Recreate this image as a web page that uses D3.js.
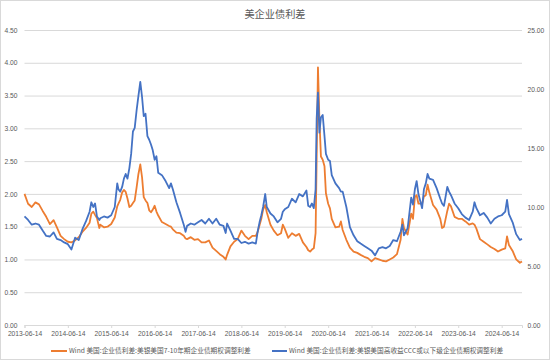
<!DOCTYPE html>
<html><head><meta charset="utf-8">
<script src="https://cdn.jsdelivr.net/npm/d3@7"></script>
<style>html,body{margin:0;padding:0;background:#fff;}svg{display:block;font-family:"Noto Sans CJK SC","Noto Sans",sans-serif;}</style>
</head><body><svg id="c" width="550" height="360"></svg>
<script>
const title = "美企业债利差";
const seriesNames = ["Wind 美国:企业债利差:美银美国7-10年期企业债期权调整利差","Wind 美国:企业债利差:美银美国高收益CCC或以下级企业债期权调整利差"];
const xTickLabels = ["2013-06-14","2014-06-14","2015-06-14","2016-06-14","2017-06-14","2018-06-14","2019-06-14","2020-06-14","2021-06-14","2022-06-14","2023-06-14","2024-06-14"];
const leftTicks = [0,0.5,1,1.5,2,2.5,3,3.5,4,4.5];
const rightTicks = [0,5,10,15,20,25];
const dates = ["2013-06-14","2013-07-14","2013-08-14","2013-09-14","2013-10-14","2013-11-14","2013-12-14","2014-01-14","2014-02-14","2014-03-14","2014-04-14","2014-05-14","2014-06-14","2014-07-14","2014-08-14","2014-09-14","2014-10-14","2014-11-14","2014-12-14","2014-12-29","2015-01-14","2015-01-29","2015-02-14","2015-03-06","2015-03-14","2015-04-14","2015-05-14","2015-06-14","2015-07-14","2015-08-04","2015-08-14","2015-08-29","2015-09-14","2015-09-29","2015-10-14","2015-10-29","2015-11-14","2015-11-29","2015-12-14","2015-12-29","2016-01-14","2016-01-29","2016-02-14","2016-02-29","2016-03-14","2016-03-29","2016-04-14","2016-04-29","2016-05-14","2016-05-29","2016-06-14","2016-06-29","2016-07-14","2016-08-14","2016-09-14","2016-10-14","2016-10-29","2016-11-14","2016-12-14","2017-01-14","2017-02-14","2017-03-01","2017-03-14","2017-04-14","2017-05-14","2017-06-14","2017-07-14","2017-08-14","2017-09-14","2017-10-14","2017-11-14","2017-12-14","2018-01-14","2018-02-02","2018-02-14","2018-03-14","2018-04-14","2018-05-14","2018-06-14","2018-07-14","2018-08-14","2018-09-14","2018-10-14","2018-10-29","2018-11-14","2018-11-29","2018-12-14","2019-01-01","2019-01-14","2019-02-14","2019-03-14","2019-04-14","2019-05-14","2019-05-29","2019-06-14","2019-07-14","2019-08-14","2019-09-14","2019-10-14","2019-11-14","2019-12-14","2019-12-29","2020-01-14","2020-01-29","2020-02-14","2020-02-29","2020-03-09","2020-03-20","2020-04-01","2020-04-14","2020-04-29","2020-05-14","2020-05-26","2020-06-14","2020-06-29","2020-07-14","2020-08-14","2020-09-14","2020-09-29","2020-10-14","2020-11-14","2020-12-14","2021-01-14","2021-02-14","2021-03-14","2021-04-14","2021-05-14","2021-06-14","2021-07-14","2021-08-14","2021-09-14","2021-10-14","2021-11-14","2021-12-14","2022-01-14","2022-02-14","2022-03-01","2022-03-14","2022-04-14","2022-05-14","2022-05-29","2022-06-14","2022-06-29","2022-07-14","2022-08-14","2022-08-29","2022-09-14","2022-09-29","2022-10-14","2022-11-14","2022-12-14","2023-01-14","2023-01-29","2023-02-14","2023-03-14","2023-03-29","2023-04-14","2023-05-14","2023-06-14","2023-07-14","2023-08-14","2023-09-14","2023-10-14","2023-10-29","2023-11-14","2023-12-14","2024-01-14","2024-02-14","2024-03-14","2024-04-14","2024-05-14","2024-06-14","2024-07-14","2024-07-29","2024-08-14","2024-09-14","2024-10-14","2024-11-14","2024-12-02"];
const igOAS = [2.00,1.85,1.80,1.87,1.84,1.74,1.65,1.54,1.60,1.49,1.36,1.31,1.27,1.26,1.29,1.34,1.42,1.48,1.56,1.70,1.73,1.68,1.63,1.48,1.53,1.49,1.50,1.54,1.64,1.81,1.85,1.91,2.02,2.06,2.03,1.93,1.80,1.82,1.86,1.90,2.10,2.30,2.45,2.25,1.95,1.90,1.86,1.75,1.72,1.76,1.82,1.73,1.67,1.57,1.54,1.51,1.50,1.46,1.41,1.40,1.36,1.32,1.31,1.34,1.30,1.31,1.26,1.26,1.29,1.18,1.13,1.08,1.04,1.00,1.07,1.20,1.27,1.31,1.44,1.36,1.31,1.36,1.36,1.42,1.52,1.62,1.76,1.83,1.72,1.53,1.44,1.37,1.40,1.53,1.47,1.33,1.40,1.36,1.39,1.26,1.19,1.14,1.12,1.15,1.17,1.40,2.55,3.93,3.15,2.57,2.52,2.42,2.01,1.85,1.78,1.62,1.49,1.50,1.58,1.45,1.30,1.18,1.12,1.10,1.07,1.04,1.02,0.97,1.02,1.00,0.98,0.97,1.00,1.03,1.08,1.30,1.62,1.48,1.38,1.70,1.62,1.95,1.98,1.85,1.85,1.96,1.98,2.14,2.02,1.83,1.76,1.62,1.48,1.50,1.74,1.85,1.81,1.65,1.62,1.62,1.58,1.53,1.55,1.53,1.47,1.31,1.27,1.23,1.19,1.16,1.12,1.15,1.17,1.35,1.22,1.13,1.00,0.95,0.97];
const cccOAS = [9.2,8.9,8.5,8.6,8.5,8.0,7.55,7.5,7.85,7.3,7.2,7.0,6.85,6.4,7.4,7.2,8.1,8.8,9.6,10.4,10.0,10.3,9.2,8.9,9.05,9.2,9.1,9.3,10.0,12.0,11.5,11.3,11.7,12.4,12.8,12.4,13.3,14.5,16.4,16.7,18.2,19.4,20.6,19.3,17.7,17.9,16.0,15.7,15.3,14.8,14.0,14.3,12.9,12.7,12.2,11.6,12.0,11.5,10.4,9.5,8.5,7.9,8.4,8.6,8.5,8.7,8.9,8.6,9.0,8.6,9.0,8.5,8.4,7.8,8.6,8.0,7.3,7.3,6.95,7.05,6.9,7.0,6.9,7.9,8.7,9.3,10.0,11.1,10.0,9.45,9.2,8.7,9.0,9.6,9.8,10.0,10.7,10.4,11.1,10.9,11.4,10.1,10.0,10.3,9.9,11.5,17.5,19.7,16.3,17.6,17.8,16.0,14.5,14.0,13.9,12.7,12.0,11.6,11.3,11.3,10.0,8.3,7.6,7.1,6.9,6.7,6.5,6.3,5.9,6.5,6.6,6.5,6.7,7.2,7.1,7.9,8.5,7.6,8.2,10.8,10.2,11.5,12.2,11.1,9.9,11.5,12.0,12.8,12.4,12.3,11.6,10.7,10.3,10.1,11.7,11.3,11.0,10.3,9.9,9.4,9.1,8.9,9.6,10.4,9.9,9.3,9.5,9.1,8.6,9.0,9.2,9.3,9.6,10.6,9.4,8.7,7.7,7.2,7.3];

const svg = d3.select("#c");
const txt = "#595959", grid = "#d9d9d9";
const fs = 6.7;
svg.append("rect").attr("x",0.5).attr("y",0.5).attr("width",549).attr("height",359).attr("fill","#fff").attr("stroke","#d9d9d9");

const parse = d3.timeParse("%Y-%m-%d");
const X0 = 24.5, X1 = 522, Y0 = 325, Y1 = 30;
const x = d3.scaleTime().domain([parse(dates[0]), parse(dates[dates.length-1])]).range([X0, X1]);
const yL = d3.scaleLinear().domain([0,4.5]).range([Y0,Y1]);
const yR = d3.scaleLinear().domain([0,25]).range([Y0,Y1]);

svg.append("text").attr("x",275).attr("y",17.5).attr("text-anchor","middle").attr("font-size",10.2).attr("fill",txt).text(title);

const gL = svg.append("g").attr("transform",`translate(${X0},0)`)
  .call(d3.axisLeft(yL).tickValues(leftTicks).tickFormat(d3.format(".2f")).tickSize(-(X1-X0)).tickPadding(7));
gL.select(".domain").remove();
gL.selectAll("line").attr("stroke",grid).attr("stroke-width",1);
gL.selectAll("text").attr("font-size",fs).attr("fill",txt).attr("font-family","inherit");

const gR = svg.append("g").attr("transform",`translate(${X1},0)`)
  .call(d3.axisRight(yR).tickValues(rightTicks).tickFormat(d3.format(".2f")).tickSize(0).tickPadding(5.5));
gR.select(".domain").remove();
gR.selectAll("text").attr("font-size",fs).attr("fill",txt).attr("font-family","inherit");

const xt = xTickLabels.map(parse);
const gX = svg.append("g").attr("transform",`translate(0,${Y0})`)
  .call(d3.axisBottom(x).tickValues(xt).tickFormat(d3.timeFormat("%Y-%m-%d")).tickSize(3).tickPadding(3));
gX.select(".domain").attr("stroke",grid);
gX.selectAll("line").attr("stroke",grid);
gX.selectAll("text").attr("font-size",fs).attr("fill",txt).attr("font-family","inherit");

const data = dates.map((d,i)=>({d:parse(d), a:igOAS[i], b:cccOAS[i]}));
const lineA = d3.line().x(d=>x(d.d)).y(d=>yL(d.a));
const lineB = d3.line().x(d=>x(d.d)).y(d=>yR(d.b));
const colors = ["#ED7D31","#4472C4"];
svg.append("path").datum(data).attr("d",lineA).attr("fill","none").attr("stroke",colors[0]).attr("stroke-width",1.8).attr("stroke-linejoin","round");
svg.append("path").datum(data).attr("d",lineB).attr("fill","none").attr("stroke",colors[1]).attr("stroke-width",1.8).attr("stroke-linejoin","round");

const leg = [{x1:51,x2:67,tx:69},{x1:272,x2:287,tx:289}];
leg.forEach((l,i)=>{
  svg.append("line").attr("x1",l.x1).attr("x2",l.x2).attr("y1",351).attr("y2",351).attr("stroke",colors[i]).attr("stroke-width",2);
  svg.append("text").attr("x",l.tx).attr("y",353.4).attr("font-size",fs).attr("fill",txt).text(seriesNames[i]);
});
</script></body></html>
